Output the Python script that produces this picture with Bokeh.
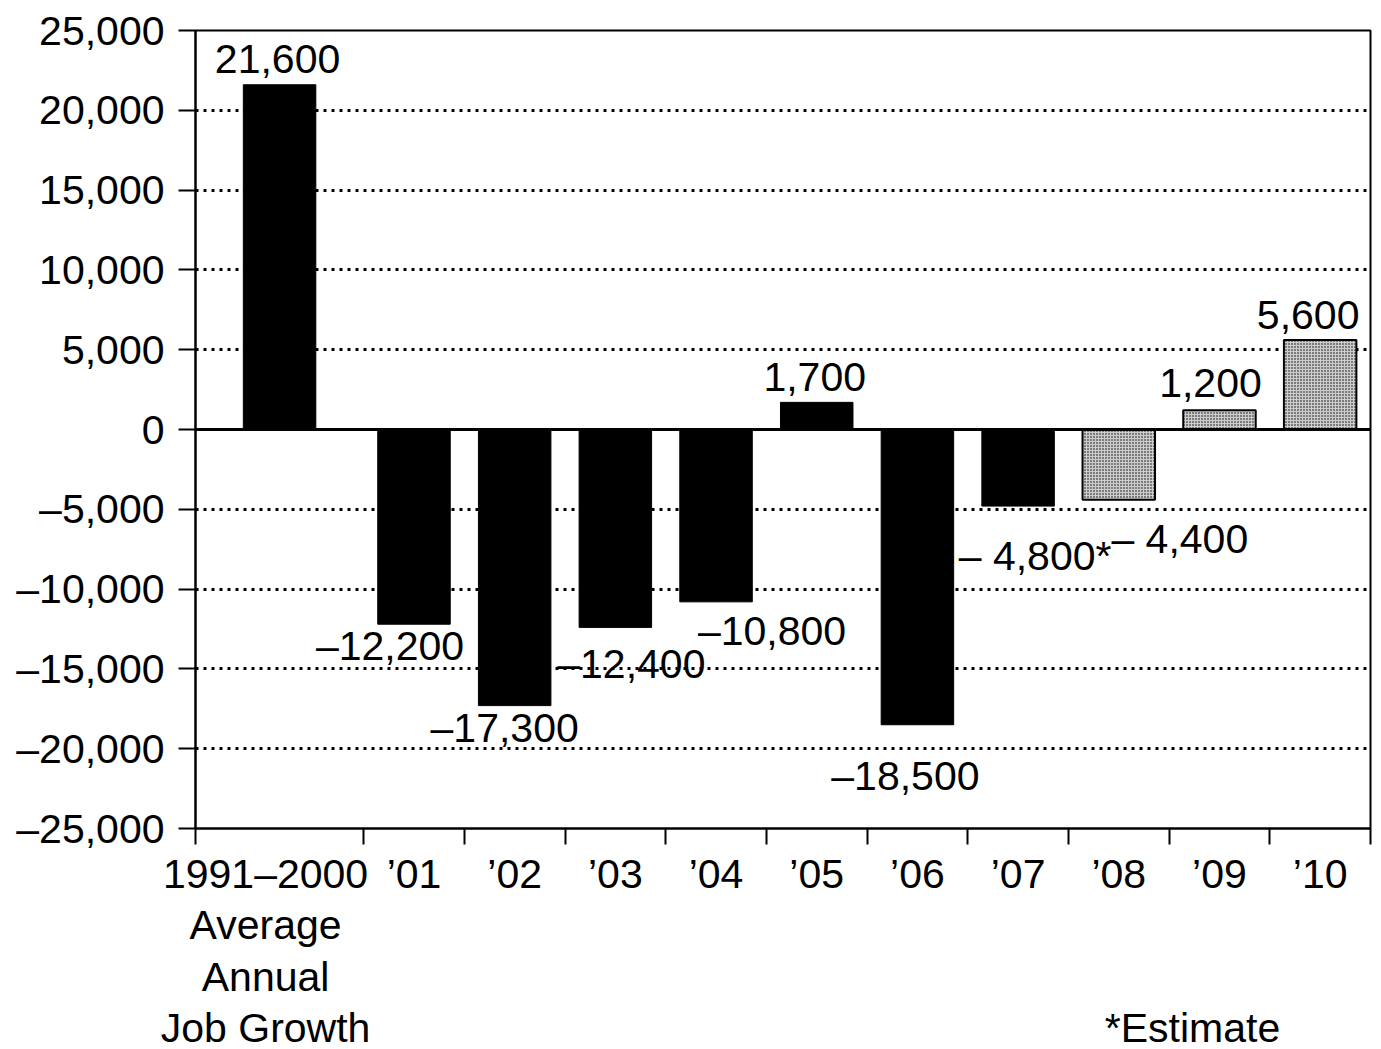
from bokeh.plotting import figure
from bokeh.models import Range1d, FixedTicker, Span, ColumnDataSource
from bokeh.core.properties import value
from bokeh.embed import file_html
from bokeh.resources import INLINE

# ---------------- data ----------------
categories = ["1991–2000", "’01", "’02", "’03", "’04", "’05", "’06", "’07", "’08", "’09", "’10"]
first_category_notes = ["Average", "Annual", "Job Growth"]
job_change = [21600, -12200, -17300, -12400, -10800, 1700, -18500, -4800, -4400, 1200, 5600]
is_estimate = [False, False, False, False, False, False, False, False, True, True, True]
bar_labels = ["21,600", "–12,200", "–17,300", "–12,400", "–10,800", "1,700",
              "–18,500", "– 4,800*", "– 4,400", "1,200", "5,600"]
footnote = "*Estimate"
y_ticks = [-25000, -20000, -15000, -10000, -5000, 0, 5000, 10000, 15000, 20000, 25000]

# ---------------- layout / style ----------------
FONT = value("Liberation Sans")
FS = "41px"
BL, BR, BT, BB = 195, 11, 30, 221
FRAME_W, FRAME_H = 1175, 798
cat_widths = [1.67] + [1.0] * (len(categories) - 1)
XMAX = sum(cat_widths)
XPX = FRAME_W / XMAX          # px per x unit
BAR_W = 0.72
TEXT_SHIFT = -14              # calibration of the text baseline

bounds = [0.0]
for w in cat_widths:
    bounds.append(bounds[-1] + w)
centers = [(bounds[i] + bounds[i + 1]) / 2 for i in range(len(categories))]

# label offsets in screen px (dx right, dy down) relative to bar centre / bar end
label_dx = [-2, -24, -10, 16, 56, -2, -12, 17, 61, -9, -12]
label_dy = [-12, 36, 36, 51, 43, -11, 65, 64, 53, -13, -11]
label_dy = [d + TEXT_SHIFT for d in label_dy]

p = figure(frame_width=FRAME_W, frame_height=FRAME_H, output_backend="svg", toolbar_location=None,
           x_range=Range1d(0, XMAX), y_range=Range1d(-25000, 25000),
           min_border_left=BL, min_border_right=BR, min_border_top=BT, min_border_bottom=BB)
p.background_fill_color = "white"
p.border_fill_color = "white"
p.outline_line_color = "black"
p.outline_line_width = 2

# grid
p.xgrid.visible = False
p.ygrid.ticker = FixedTicker(ticks=[t for t in y_ticks if t not in (0, -25000, 25000)])
p.ygrid.grid_line_color = "black"
p.ygrid.grid_line_width = 3
p.ygrid.grid_line_dash = "3 5"

# bars
solid = ColumnDataSource(dict(
    x=[c for c, e in zip(centers, is_estimate) if not e],
    top=[max(v, 0) for v, e in zip(job_change, is_estimate) if not e],
    bottom=[min(v, 0) for v, e in zip(job_change, is_estimate) if not e]))
est = ColumnDataSource(dict(
    x=[c for c, e in zip(centers, is_estimate) if e],
    top=[max(v, 0) for v, e in zip(job_change, is_estimate) if e],
    bottom=[min(v, 0) for v, e in zip(job_change, is_estimate) if e]))
p.vbar(x="x", top="top", bottom="bottom", width=BAR_W, source=solid,
       fill_color="black", line_color="black", line_width=1)
p.vbar(x="x", top="top", bottom="bottom", width=BAR_W, source=est,
       fill_color="#cdcdcd", line_color="black", line_width=2,
       hatch_pattern="dot", hatch_color="black", hatch_scale=3, hatch_weight=1)

p.add_layout(Span(location=0, dimension="width", line_color="black", line_width=3))

# value labels
lab = ColumnDataSource(dict(x=centers, y=job_change, text=bar_labels, dx=label_dx, dy=label_dy))
p.text(x="x", y="y", text="text", x_offset="dx", y_offset="dy", source=lab,
       text_font=FONT, text_font_size=value(FS), text_color="black",
       text_align="center", text_baseline="alphabetic")

# x axis: labels at category centres, tick marks at category boundaries
label_pos = list(centers)
label_pos[0] = centers[0] - 14 / XPX
foot_pos = (1192 - BL) / XPX
overrides = {pos: cat for pos, cat in zip(label_pos, categories)}
overrides[label_pos[0]] = "\n".join([categories[0]] + first_category_notes)
overrides[foot_pos] = "\n\n\n" + footnote
xa = p.xaxis[0]
xa.ticker = FixedTicker(ticks=label_pos + [foot_pos], minor_ticks=bounds)
xa.major_label_overrides = overrides
xa.axis_line_width = 2
xa.axis_line_color = "black"
xa.major_tick_line_color = None
xa.major_tick_out = 0
xa.major_tick_in = 0
xa.minor_tick_line_color = "black"
xa.minor_tick_line_width = 2
xa.minor_tick_out = 16
xa.minor_tick_in = 0
xa.major_label_standoff = 6
xa.major_label_text_font = "Liberation Sans"
xa.major_label_text_font_size = FS
xa.major_label_text_color = "black"
xa.major_label_text_line_height = 1.12

# y axis
ya = p.yaxis[0]
ya.ticker = FixedTicker(ticks=y_ticks)
ya.major_label_overrides = {t: f"{t:,}".replace("-", "–") for t in y_ticks}
ya.axis_line_width = 2
ya.axis_line_color = "black"
ya.major_tick_line_color = "black"
ya.major_tick_line_width = 2
ya.major_tick_out = 17
ya.major_tick_in = 0
ya.minor_tick_line_color = None
ya.major_label_standoff = 14
ya.major_label_text_font = "Liberation Sans"
ya.major_label_text_font_size = FS
ya.major_label_text_color = "black"

open("out.html", "w").write(file_html(p, INLINE))
